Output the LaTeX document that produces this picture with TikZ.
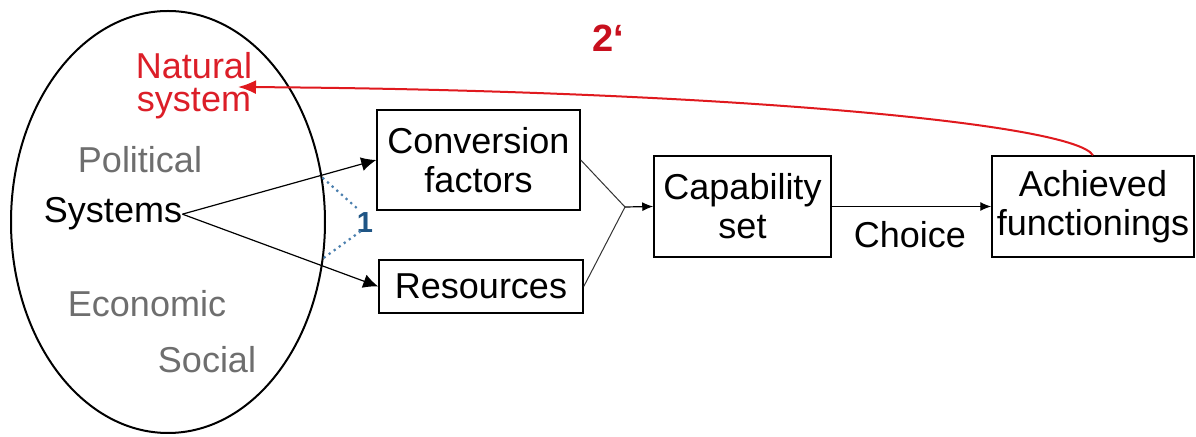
\documentclass[tikz,border=0pt]{standalone}
\usepackage{fontspec}
\setmainfont{Liberation Sans}
\usetikzlibrary{arrows.meta,shapes.geometric,calc}
\definecolor{natred}{HTML}{DC1E28}
\definecolor{curvered}{HTML}{E0191E}
\definecolor{darkred2}{HTML}{C8101E}
\definecolor{sysgray}{HTML}{6E6E6E}
\definecolor{onetext}{HTML}{1F5585}
\definecolor{dotblue}{HTML}{4A7FAE}
\begin{document}
\begin{tikzpicture}[x=0.5pt,y=-0.5pt,
  lbl/.style={font=\fontsize{18}{19.5}\selectfont, inner sep=0pt},
  boxnode/.style={draw, line width=0.75pt, font=\fontsize{18}{19.5}\selectfont, align=center, inner sep=0pt},
  bigarrow/.style={-{Latex[length=7.5pt,width=7pt]}, line width=0.6pt},
  smallarrow/.style={-{Latex[length=5.5pt,width=4.5pt]}, line width=0.6pt},
  plainline/.style={line width=0.5pt, draw=black!80},
  dotline/.style={dotted, line width=1.1pt, draw=dotblue}
]
\useasboundingbox (0,0) rectangle (1196,437);
\fill[white] (0,0) rectangle (1196,437);

% ellipse
\node[draw, ellipse, line width=1pt, minimum width=157pt, minimum height=211pt, inner sep=0pt] (ell) at (168,222) {};

% texts in ellipse
\node[lbl, text=natred, align=center, font=\fontsize{18}{16.5}\selectfont] (natural) at (194,86) {Natural\\system};
\node[lbl, text=sysgray, anchor=base] (political) at (140,173) {Political};
\node[lbl, anchor=base] (systems) at (113,223) {Systems};
\node[lbl, text=sysgray, anchor=base] (economic) at (147,317) {Economic};
\node[lbl, text=sysgray, anchor=base] (social) at (207,373) {Social};

% boxes
\node[boxnode, minimum width=101.5pt, minimum height=50pt] (conv) at (478.5,160) {Conversion\\factors};
\node[boxnode, minimum width=102pt, minimum height=26.5pt] (res) at (481,286.5) {Resources};
\node[boxnode, minimum width=88.5pt, minimum height=50.5pt] (cap) at (742.5,206.5) {Capability\\set};
\node[boxnode, minimum width=101pt, minimum height=50.5pt] (ach) at (1093,206.5) {Achieved\\functionings};

% labels
\node[lbl] (choice) at (910,235) {Choice};
\node[inner sep=0pt, text=darkred2, font=\fontsize{19}{20}\selectfont\bfseries] (two) at (608,38) {2‘};
\node[inner sep=0pt, text=onetext, font=\fontsize{14.5}{15}\selectfont\bfseries] (one) at (365,223) {1};

% connectors
\coordinate (junc) at (625,207);
\draw[bigarrow] (systems.east) -- (conv.west);
\draw[bigarrow] (systems.east) -- (res.west);
\draw[plainline] (conv.east) -- (junc);
\draw[plainline] (res.east) -- (junc);
\draw[smallarrow] (junc) -- (cap.west);
\draw[smallarrow] (cap.east) -- (ach.west);

% dotted lines to "1"
\coordinate (oneup) at (359,210);
\coordinate (onelo) at (361,231);
\draw[dotline] (ell.16) -- (oneup);
\draw[dotline] (ell.-13) -- (onelo);

% red feedback arrow
\coordinate (nattip) at (238,87);
\draw[curvered, line width=1pt, -{Latex[length=9pt,width=7pt]}]
  (ach.north) .. controls (1072,122) and (700,90) .. (nattip);
\end{tikzpicture}
\end{document}
